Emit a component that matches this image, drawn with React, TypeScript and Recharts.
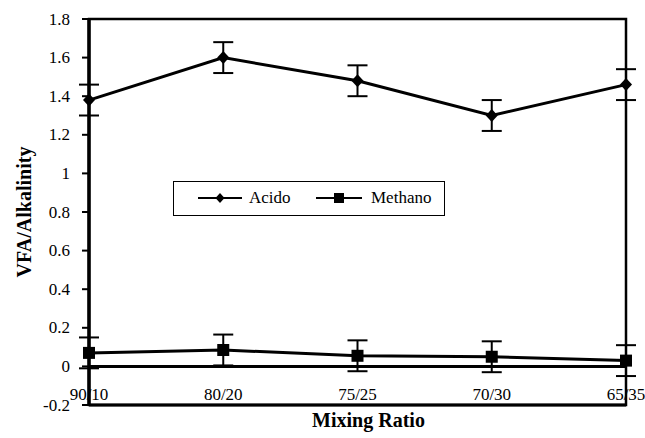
import {
  ComposedChart,
  Line,
  XAxis,
  YAxis,
  ErrorBar,
  ReferenceLine,
  ReferenceArea,
  Legend,
} from 'recharts';

// Mixing ratios along the x axis
const categories = ['90/10', '80/20', '75/25', '70/30', '65/35'];

// VFA/Alkalinity ratio per reactor
const acido = [1.38, 1.6, 1.48, 1.3, 1.46];
const acidoErr = [0.08, 0.08, 0.08, 0.08, 0.08];
const methano = [0.07, 0.085, 0.055, 0.05, 0.03];
const methanoErr = [0.08, 0.08, 0.08, 0.08, 0.08];

const yTicks = [-0.2, 0, 0.2, 0.4, 0.6, 0.8, 1, 1.2, 1.4, 1.6, 1.8];
const yTickLabels = ['-0.2', '0', '0.2', '0.4', '0.6', '0.8', '1', '1.2', '1.4', '1.6', '1.8'];

const data = categories.map((label, i) => ({
  idx: i,
  label,
  acido: acido[i],
  acidoErr: acidoErr[i],
  methano: methano[i],
  methanoErr: methanoErr[i],
}));

const FONT = '"Liberation Serif", "Times New Roman", serif';

const DiamondDot = (props: any) => {
  const { cx, cy, index } = props;
  if (cx == null || cy == null) return null;
  return (
    <path
      key={`a-${index}`}
      d={`M${cx},${cy - 6.5}L${cx + 6},${cy}L${cx},${cy + 6.5}L${cx - 6},${cy}Z`}
      fill="#000"
    />
  );
};

const SquareDot = (props: any) => {
  const { cx, cy, index } = props;
  if (cx == null || cy == null) return null;
  return <rect key={`m-${index}`} x={cx - 6} y={cy - 6} width={12} height={12} fill="#000" />;
};

// x tick labels sit just above the bottom frame, as in the original
const XTick = (props: any) => {
  const { x, y, payload } = props;
  return (
    <text x={x} y={y - 5} textAnchor="middle" fontFamily={FONT} fontSize={17} fill="#000">
      {categories[payload.value]}
    </text>
  );
};

const YTick = (props: any) => {
  const { x, y, payload } = props;
  const i = yTicks.indexOf(payload.value);
  return (
    <text x={x} y={y} textAnchor="end" dominantBaseline="central" fontFamily={FONT} fontSize={17} fill="#000">
      {i >= 0 ? yTickLabels[i] : payload.value}
    </text>
  );
};

const renderLegend = () => (
  <div
    style={{
      position: 'relative',
      boxSizing: 'border-box',
      width: 272,
      height: 35,
      border: '1.5px solid #000',
      background: '#fff',
      fontFamily: FONT,
      fontSize: 17,
      color: '#000',
    }}
  >
    <svg width={46} height={14} style={{ position: 'absolute', left: 24, top: 9 }}>
      <line x1={0} y1={7} x2={44} y2={7} stroke="#000" strokeWidth={2} />
      <path d="M22,2L26.5,7L22,12L17.5,7Z" fill="#000" />
    </svg>
    <span style={{ position: 'absolute', left: 75, top: 6, lineHeight: '20px' }}>Acido</span>
    <svg width={48} height={14} style={{ position: 'absolute', left: 142, top: 9 }}>
      <line x1={0} y1={7} x2={46} y2={7} stroke="#000" strokeWidth={2} />
      <rect x={18} y={2} width={10} height={10} fill="#000" />
    </svg>
    <span style={{ position: 'absolute', left: 197, top: 6, lineHeight: '20px' }}>Methano</span>
  </div>
);

export default function App() {
  return (
    <div style={{ position: 'absolute', left: 0, top: 0, background: '#fff' }}>
      <ComposedChart
        width={645}
        height={438}
        data={data}
        margin={{ top: 19, right: 19, bottom: 0, left: 29 }}
      >
        <XAxis
          dataKey="idx"
          type="number"
          domain={[0, 4]}
          ticks={[0, 1, 2, 3, 4]}
          axisLine={{ stroke: '#000', strokeWidth: 3 }}
          tickLine={false}
          tickSize={0}
          tickMargin={0}
          height={33}
          tick={<XTick />}
          label={{
            content: (p: any) => {
              const vb = p.viewBox || { x: 89, y: 405, width: 537 };
              return (
                <text
                  x={vb.x + vb.width / 2 + 11}
                  y={vb.y + 22}
                  textAnchor="middle"
                  fontFamily={FONT}
                  fontWeight="bold"
                  fontSize={20}
                  fill="#000"
                >
                  Mixing Ratio
                </text>
              );
            },
          }}
        />
        <YAxis
          type="number"
          domain={[-0.2, 1.8]}
          ticks={yTicks}
          width={60}
          axisLine={{ stroke: '#000', strokeWidth: 3.5 }}
          tickLine={{ stroke: '#000', strokeWidth: 2 }}
          tickSize={7}
          tickMargin={12}
          tick={<YTick />}
          label={{
            content: (p: any) => {
              const vb = p.viewBox || { x: 29, y: 19, width: 60, height: 386 };
              const cx = vb.x - 5;
              const cy = vb.y + vb.height / 2;
              return (
                <text
                  x={cx}
                  y={cy}
                  transform={`rotate(-90 ${cx} ${cy})`}
                  textAnchor="middle"
                  dominantBaseline="central"
                  fontFamily={FONT}
                  fontWeight="bold"
                  fontSize={20}
                  fill="#000"
                >
                  VFA/Alkalinity
                </text>
              );
            },
          }}
        />
        <ReferenceArea x1={0} x2={4} y1={-0.2} y2={1.8} fill="none" stroke="#000" strokeWidth={2.5} />
        <ReferenceLine y={0} stroke="#000" strokeWidth={3} />
        <Legend
          layout="horizontal"
          verticalAlign="middle"
          align="center"
          content={renderLegend}
          wrapperStyle={{ left: 173, top: 181, width: 272, height: 35 }}
        />
        <Line
          dataKey="acido"
          name="Acido"
          stroke="#000"
          strokeWidth={3}
          dot={DiamondDot}
          activeDot={false}
          isAnimationActive={false}
        >
          <ErrorBar dataKey="acidoErr" direction="y" width={10} stroke="#000" strokeWidth={2} />
        </Line>
        <Line
          dataKey="methano"
          name="Methano"
          stroke="#000"
          strokeWidth={3}
          dot={SquareDot}
          activeDot={false}
          isAnimationActive={false}
        >
          <ErrorBar dataKey="methanoErr" direction="y" width={10} stroke="#000" strokeWidth={2} />
        </Line>
      </ComposedChart>
    </div>
  );
}
